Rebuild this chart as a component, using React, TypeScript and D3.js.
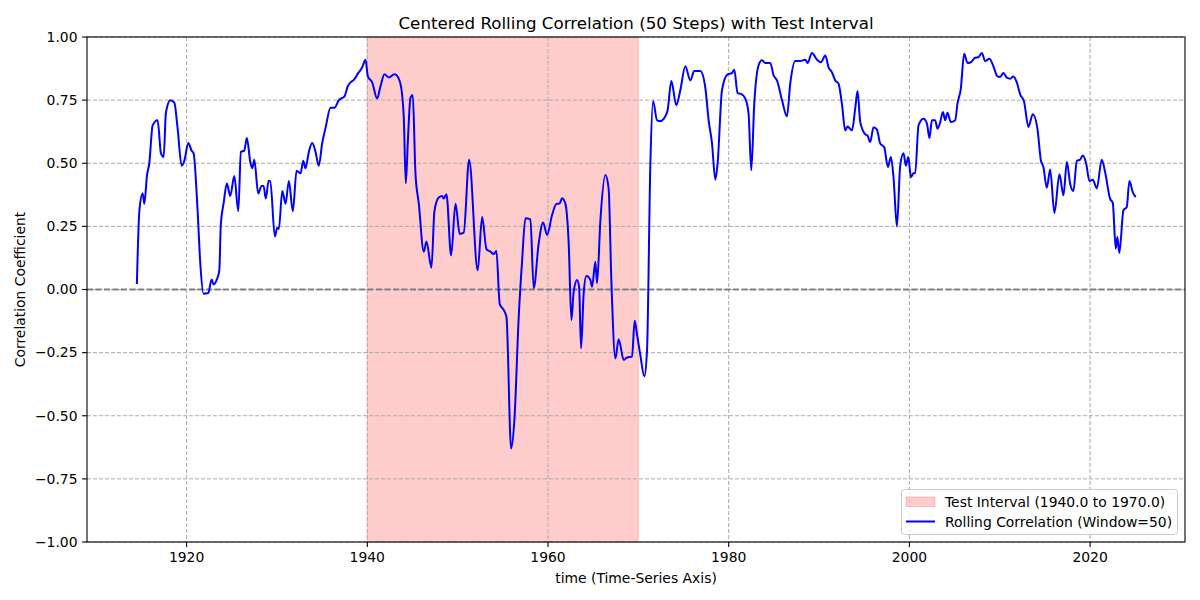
import React from 'react';
import * as d3 from 'd3';

// values
const years = [
  1914.50, 1914.77, 1915.13, 1915.32, 1915.61, 1915.87, 1916.24, 1916.79, 1917.16, 1917.46,
  1917.71, 1918.20, 1918.64, 1919.00, 1919.45, 1919.75, 1920.19, 1920.55, 1920.77, 1921.22,
  1921.52, 1921.88, 1922.40, 1922.77, 1922.99, 1923.35, 1923.62, 1923.79, 1924.09, 1924.46,
  1924.83, 1925.28, 1925.72, 1926.01, 1926.38, 1926.67, 1927.05, 1927.27, 1927.49, 1927.93,
  1928.30, 1928.52, 1928.77, 1929.07, 1929.26, 1929.77, 1930.03, 1930.21, 1930.59, 1930.95,
  1931.32, 1931.76, 1932.17, 1932.61, 1932.91, 1933.16, 1933.53, 1933.90, 1934.27, 1934.63,
  1935.01, 1935.38, 1935.93, 1936.37, 1936.85, 1937.48, 1937.84, 1938.14, 1938.51, 1938.95,
  1939.44, 1939.80, 1940.06, 1940.54, 1941.09, 1941.46, 1941.90, 1942.38, 1943.01, 1943.48,
  1943.86, 1944.04, 1944.26, 1944.48, 1944.78, 1945.03, 1945.33, 1945.70, 1946.25, 1946.55,
  1947.10, 1947.43, 1947.91, 1948.29, 1948.46, 1948.76, 1949.28, 1949.76, 1950.23, 1950.67,
  1951.27, 1952.22, 1952.71, 1953.19, 1953.63, 1953.99, 1954.29, 1954.66, 1955.10, 1955.40,
  1955.92, 1956.28, 1956.76, 1957.14, 1957.50, 1958.05, 1958.42, 1958.97, 1959.46, 1959.90,
  1960.45, 1960.93, 1961.29, 1961.56, 1961.92, 1962.29, 1962.59, 1962.84, 1963.22, 1963.44,
  1963.66, 1963.95, 1964.25, 1964.69, 1964.88, 1965.24, 1965.43, 1965.80, 1966.35, 1966.71,
  1967.01, 1967.46, 1967.82, 1968.38, 1968.75, 1969.30, 1969.59, 1969.86, 1970.22, 1970.66,
  1970.96, 1971.33, 1971.63, 1972.07, 1972.43, 1972.80, 1973.24, 1973.65, 1974.20, 1974.65,
  1975.20, 1975.75, 1976.19, 1976.86, 1977.41, 1977.78, 1978.15, 1978.52, 1978.77, 1979.26,
  1979.88, 1980.36, 1980.62, 1980.98, 1981.36, 1981.84, 1982.20, 1982.50, 1982.83, 1983.31,
  1983.68, 1984.05, 1984.60, 1984.97, 1985.34, 1985.90, 1986.45, 1986.81, 1987.37, 1987.92,
  1988.47, 1988.73, 1989.21, 1989.77, 1990.21, 1990.69, 1991.05, 1991.43, 1991.79, 1992.16,
  1992.53, 1992.90, 1993.15, 1993.64, 1994.00, 1994.26, 1994.56, 1995.11, 1995.36, 1995.66,
  1996.03, 1996.41, 1996.77, 1997.21, 1997.62, 1997.95, 1998.24, 1998.62, 1998.98, 1999.35,
  1999.61, 1999.87, 2000.17, 2000.45, 2000.64, 2001.01, 2001.56, 2001.94, 2002.22, 2002.49,
  2002.85, 2003.11, 2003.41, 2003.71, 2003.96, 2004.21, 2004.59, 2005.07, 2005.32, 2005.69,
  2006.06, 2006.43, 2006.80, 2007.28, 2007.64, 2008.02, 2008.38, 2008.86, 2009.30, 2009.74,
  2010.04, 2010.41, 2010.79, 2011.15, 2011.52, 2011.89, 2012.26, 2012.70, 2013.17, 2013.66,
  2014.17, 2014.55, 2014.83, 2015.21, 2015.58, 2016.05, 2016.61, 2017.05, 2017.43, 2017.79,
  2018.15, 2018.53, 2018.89, 2019.19, 2019.56, 2019.92, 2020.30, 2020.74, 2021.29, 2021.66,
  2022.21, 2022.51, 2022.84, 2023.02, 2023.24, 2023.69, 2024.06, 2024.35, 2024.72, 2024.98,
];

const rollingCorr = [
  0.026, 0.31, 0.38, 0.34, 0.45, 0.50, 0.65, 0.67, 0.54, 0.525,
  0.70, 0.75, 0.74, 0.64, 0.49, 0.51, 0.58, 0.55, 0.54, 0.31,
  0.10, -0.017, -0.014, 0.04, 0.02, 0.04, 0.076, 0.26, 0.34, 0.42,
  0.37, 0.45, 0.31, 0.545, 0.55, 0.60, 0.505, 0.48, 0.514, 0.38,
  0.41, 0.41, 0.36, 0.43, 0.43, 0.21, 0.245, 0.24, 0.39, 0.34,
  0.43, 0.31, 0.47, 0.46, 0.51, 0.48, 0.545, 0.58, 0.545, 0.49,
  0.58, 0.64, 0.72, 0.72, 0.75, 0.765, 0.805, 0.82, 0.83, 0.855,
  0.88, 0.91, 0.844, 0.82, 0.756, 0.805, 0.852, 0.84, 0.852, 0.835,
  0.77, 0.68, 0.42, 0.58, 0.76, 0.77, 0.46, 0.34, 0.15, 0.19,
  0.086, 0.31, 0.364, 0.37, 0.36, 0.377, 0.135, 0.34, 0.22, 0.225,
  0.514, 0.076, 0.287, 0.16, 0.15, 0.14, 0.152, -0.058, -0.081, -0.108,
  -0.63, -0.517, -0.108, 0.117, 0.282, 0.278, 0.005, 0.183, 0.265, 0.216,
  0.295, 0.339, 0.341, 0.361, 0.34, 0.183, -0.121, -0.009, 0.038, 0.011,
  -0.233, -0.015, 0.053, 0.038, 0.011, 0.11, 0.025, 0.275, 0.453, 0.40,
  0.038, -0.273, -0.197, -0.279, -0.269, -0.266, -0.124, -0.18, -0.26, -0.344,
  -0.24, 0.498, 0.747, 0.67, 0.667, 0.676, 0.71, 0.826, 0.73, 0.79,
  0.884, 0.828, 0.865, 0.865, 0.80, 0.67, 0.58, 0.435, 0.498, 0.79,
  0.852, 0.857, 0.87, 0.778, 0.775, 0.756, 0.696, 0.472, 0.736, 0.888,
  0.908, 0.897, 0.897, 0.848, 0.828, 0.75, 0.686, 0.815, 0.905, 0.905,
  0.91, 0.897, 0.937, 0.91, 0.90, 0.927, 0.88, 0.86, 0.828, 0.815,
  0.736, 0.63, 0.646, 0.63, 0.716, 0.786, 0.663, 0.615, 0.61, 0.584,
  0.643, 0.633, 0.578, 0.564, 0.485, 0.525, 0.445, 0.25, 0.49, 0.54,
  0.49, 0.525, 0.445, 0.46, 0.46, 0.65, 0.676, 0.657, 0.60, 0.67,
  0.67, 0.637, 0.663, 0.703, 0.67, 0.70, 0.663, 0.67, 0.736, 0.795,
  0.934, 0.897, 0.90, 0.918, 0.92, 0.937, 0.905, 0.914, 0.884, 0.844,
  0.842, 0.857, 0.839, 0.835, 0.844, 0.82, 0.773, 0.743, 0.644, 0.694,
  0.637, 0.512, 0.485, 0.403, 0.475, 0.303, 0.456, 0.373, 0.505, 0.419,
  0.39, 0.509, 0.514, 0.531, 0.50, 0.43, 0.435, 0.40, 0.514, 0.465,
  0.36, 0.343, 0.162, 0.208, 0.145, 0.314, 0.327, 0.43, 0.386, 0.369,
];

const testInterval = [1940.0, 1970.0];
const xTicks = [1920, 1940, 1960, 1980, 2000, 2020];
const yTicks = [-1.0, -0.75, -0.5, -0.25, 0.0, 0.25, 0.5, 0.75, 1.0];

const font = 'DejaVu Sans, sans-serif';

const App = () => {
  const left = 87, right = 1185, top = 37, bottom = 542;
  const points = years.map((y, i) => [y, rollingCorr[i]] as [number, number]);

  const pad = (d3.max(years)! - d3.min(years)!) * 0.05;
  const x = d3.scaleLinear()
    .domain([d3.min(years)! - pad, d3.max(years)! + pad])
    .range([left, right]);
  const y = d3.scaleLinear().domain([-1, 1]).range([bottom, top]);

  const line = d3.line<[number, number]>()
    .x(d => x(d[0]))
    .y(d => y(d[1]))
    .curve(d3.curveMonotoneX);

  const fmt = d3.format('.2f');

  return (
    <div style={{ position: 'absolute', left: 0, top: 0 }}>
      <svg width={1200} height={600} style={{ display: 'block', background: '#fff' }}>
        <rect
          x={x(testInterval[0])} y={top}
          width={x(testInterval[1]) - x(testInterval[0])} height={bottom - top}
          fill="rgba(255,0,0,0.2)" stroke="rgba(255,0,0,0.2)" strokeWidth={1}
        />

        {/* grid */}
        <g stroke="#aaaaaa" strokeWidth={1} strokeDasharray="4 2">
          {xTicks.map(t => (
            <line key={'gx' + t} x1={x(t)} x2={x(t)} y1={top} y2={bottom} />
          ))}
          {yTicks.map(t => (
            <line key={'gy' + t} x1={left} x2={right} y1={y(t)} y2={y(t)} />
          ))}
        </g>

        {/* zero reference */}
        <line x1={left} x2={right} y1={y(0)} y2={y(0)}
          stroke="#808080" strokeWidth={1.8} strokeDasharray="6 2.5" />

        <path d={line(points)!} fill="none" stroke="#0000ff" strokeWidth={2}
          strokeLinejoin="round" strokeLinecap="square" />

        {/* spines */}
        <rect x={left} y={top} width={right - left} height={bottom - top}
          fill="none" stroke="#000" strokeWidth={1.1} />

        {/* axes */}
        <g fontFamily={font} fontSize={13.9} fill="#000">
          {xTicks.map(t => (
            <g key={'tx' + t}>
              <line x1={x(t)} x2={x(t)} y1={bottom} y2={bottom + 4.9} stroke="#000" strokeWidth={1.1} />
              <text x={x(t)} y={bottom + 20} textAnchor="middle">{t}</text>
            </g>
          ))}
          {yTicks.map(t => (
            <g key={'ty' + t}>
              <line x1={left - 4.9} x2={left} y1={y(t)} y2={y(t)} stroke="#000" strokeWidth={1.1} />
              <text x={left - 9.5} y={y(t)} dy="0.35em" textAnchor="end">{fmt(t)}</text>
            </g>
          ))}
          <text x={(left + right) / 2} y={583} textAnchor="middle">time (Time-Series Axis)</text>
          <text transform={`translate(25,${(top + bottom) / 2}) rotate(-90)`} textAnchor="middle">
            Correlation Coefficient
          </text>
        </g>

        <text x={(left + right) / 2} y={29} textAnchor="middle" fontFamily={font} fontSize={16.7}>
          Centered Rolling Correlation (50 Steps) with Test Interval
        </text>

        {/* legend */}
        <g fontFamily={font} fontSize={13.9}>
          <rect x={901.5} y={489.5} width={276} height={45} rx={3}
            fill="rgba(255,255,255,0.8)" stroke="#cccccc" strokeWidth={1} />
          <rect x={906} y={497} width={29} height={9.5}
            fill="rgba(255,0,0,0.2)" stroke="rgba(255,0,0,0.2)" />
          <text x={945} y={506.5}>Test Interval (1940.0 to 1970.0)</text>
          <line x1={906} x2={935} y1={521.5} y2={521.5} stroke="#0000ff" strokeWidth={2} />
          <text x={945} y={526.5}>Rolling Correlation (Window=50)</text>
        </g>
      </svg>
    </div>
  );
};

export default App;
